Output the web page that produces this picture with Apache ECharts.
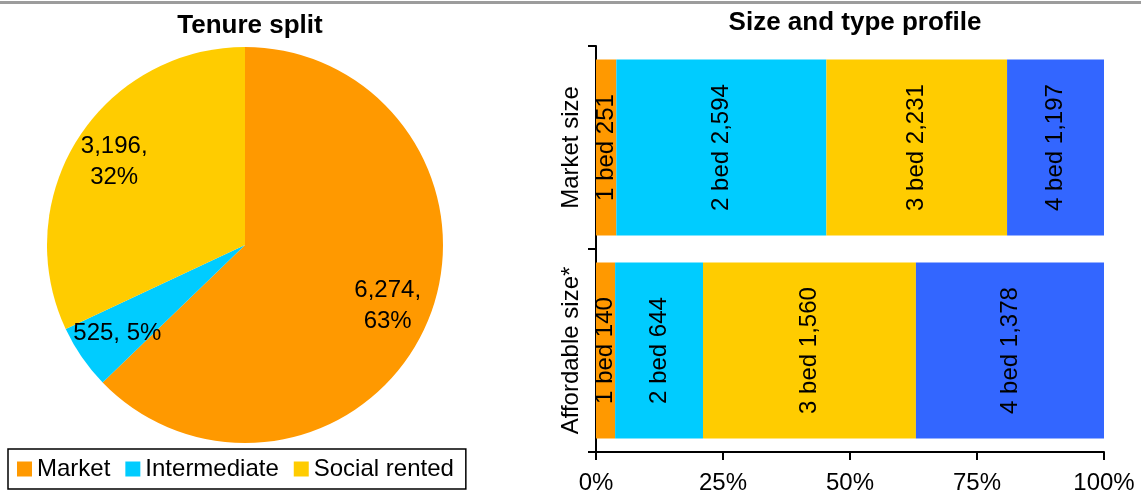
<!DOCTYPE html>
<html>
<head>
<meta charset="utf-8">
<script src="https://cdn.jsdelivr.net/npm/echarts@6/dist/echarts.min.js"></script>
<style>
html,body{margin:0;padding:0;background:#fff;}
#chart{width:1141px;height:498px;}
</style>
</head>
<body>
<div id="chart"></div>
<script>
const tenureNames = ['Market', 'Intermediate', 'Social rented'];
const tenureValues = [6274, 525, 3196];
const tenureColors = ['#FF9900', '#00CCFF', '#FFCC00'];

const sizeCategories = ['Market size', 'Affordable size*'];
const bedTypes = ['1 bed', '2 bed', '3 bed', '4 bed'];
const marketBeds = [251, 2594, 2231, 1197];
const affordableBeds = [140, 644, 1560, 1378];
const bedColors = ['#FF9900', '#00CCFF', '#FFCC00', '#3366FF'];
const xTickLabels = ['0%', '25%', '50%', '75%', '100%'];

const FONT = '"Liberation Sans", Arial, Helvetica, sans-serif';
const FS = 24;
const fmt = n => n.toLocaleString('en-US');

const marketTotal = marketBeds.reduce((a, b) => a + b, 0);
const affordableTotal = affordableBeds.reduce((a, b) => a + b, 0);

const pieData = tenureNames.map((n, i) => ({ name: n, value: tenureValues[i], itemStyle: { color: tenureColors[i] } }));
const pieLabelText = {
  'Market': p => fmt(p.value) + ',\n' + Math.round(p.percent) + '%',
  'Intermediate': p => fmt(p.value) + ', ' + Math.round(p.percent) + '%',
  'Social rented': p => fmt(p.value) + ',\n' + Math.round(p.percent) + '%'
};

const barSeries = bedTypes.map((b, i) => ({
  type: 'bar',
  name: b,
  stack: 'total',
  barWidth: 176,
  itemStyle: { color: bedColors[i] },
  data: [
    { value: marketBeds[i] / marketTotal * 100, raw: marketBeds[i] },
    { value: affordableBeds[i] / affordableTotal * 100, raw: affordableBeds[i] }
  ],
  label: {
    show: true,
    position: 'inside',
    rotate: 90,
    color: '#000',
    fontFamily: FONT,
    fontSize: FS,
    formatter: p => b + ' ' + fmt(p.data.raw)
  },
  labelLayout: { hideOverlap: false },
  silent: true
}));

const chart = echarts.init(document.getElementById('chart'), null, { renderer: 'canvas' });
chart.setOption({
  animation: false,
  backgroundColor: '#fff',
  textStyle: { fontFamily: FONT },
  graphic: [{
    type: 'rect',
    shape: { x: 0, y: 1, width: 1141, height: 3 },
    style: { fill: '#9c9c9c' },
    silent: true
  }],
  title: [
    { text: 'Tenure split', left: 245, top: 8, textAlign: 'center',
      textStyle: { fontFamily: FONT, fontSize: 26, fontWeight: 'bold', color: '#000' } },
    { text: 'Size and type profile', left: 850, top: 5, textAlign: 'center',
      textStyle: { fontFamily: FONT, fontSize: 26, fontWeight: 'bold', color: '#000' } }
  ],
  legend: {
    left: 8, top: 449,
    orient: 'horizontal',
    data: tenureNames.map((n, i) => ({ name: n, itemStyle: { color: tenureColors[i] } })),
    icon: 'rect',
    itemWidth: 15, itemHeight: 15, itemGap: 15,
    padding: [8, 12, 8, 9],
    borderColor: '#000', borderWidth: 1.5,
    textStyle: { fontFamily: FONT, fontSize: FS, color: '#000' },
    selectedMode: false
  },
  grid: { left: 596, right: 37, top: 46, bottom: 46, containLabel: false },
  xAxis: {
    type: 'value', min: 0, max: 100, interval: 25,
    axisLine: { show: true, lineStyle: { color: '#000', width: 2 } },
    axisTick: { show: true, length: 8, lineStyle: { color: '#000', width: 2 } },
    splitLine: { show: false },
    axisLabel: { color: '#000', fontFamily: FONT, fontSize: FS, margin: 19,
      formatter: v => xTickLabels[Math.round(v / 25)] }
  },
  yAxis: {
    type: 'category', inverse: true, data: sizeCategories,
    axisLine: { show: true, lineStyle: { color: '#000', width: 2 } },
    axisTick: { show: true, length: 8, lineStyle: { color: '#000', width: 2 } },
    axisLabel: { color: '#000', fontFamily: FONT, fontSize: FS, rotate: 90, margin: 13,
      interval: 0, hideOverlap: false }
  },
  series: [
    {
      type: 'pie', name: 'Tenure',
      center: [245, 245], radius: [0, 198],
      startAngle: 90, clockwise: true,
      label: { show: false }, labelLine: { show: false },
      silent: true,
      data: pieData
    },
    {
      type: 'pie', name: 'TenureLabels',
      center: [245, 245], radius: [106, 198],
      startAngle: 90, clockwise: true,
      itemStyle: { color: 'rgba(0,0,0,0)' },
      label: {
        show: true, position: 'inside', color: '#000',
        fontFamily: FONT, fontSize: FS, lineHeight: 31,
        formatter: p => pieLabelText[p.name](p)
      },
      labelLine: { show: false },
      silent: true, legendHoverLink: false,
      data: tenureNames.map((n, i) => ({ name: n, value: tenureValues[i], itemStyle: { color: 'rgba(0,0,0,0)' } }))
    },
    ...barSeries
  ]
});
</script>
</body>
</html>
